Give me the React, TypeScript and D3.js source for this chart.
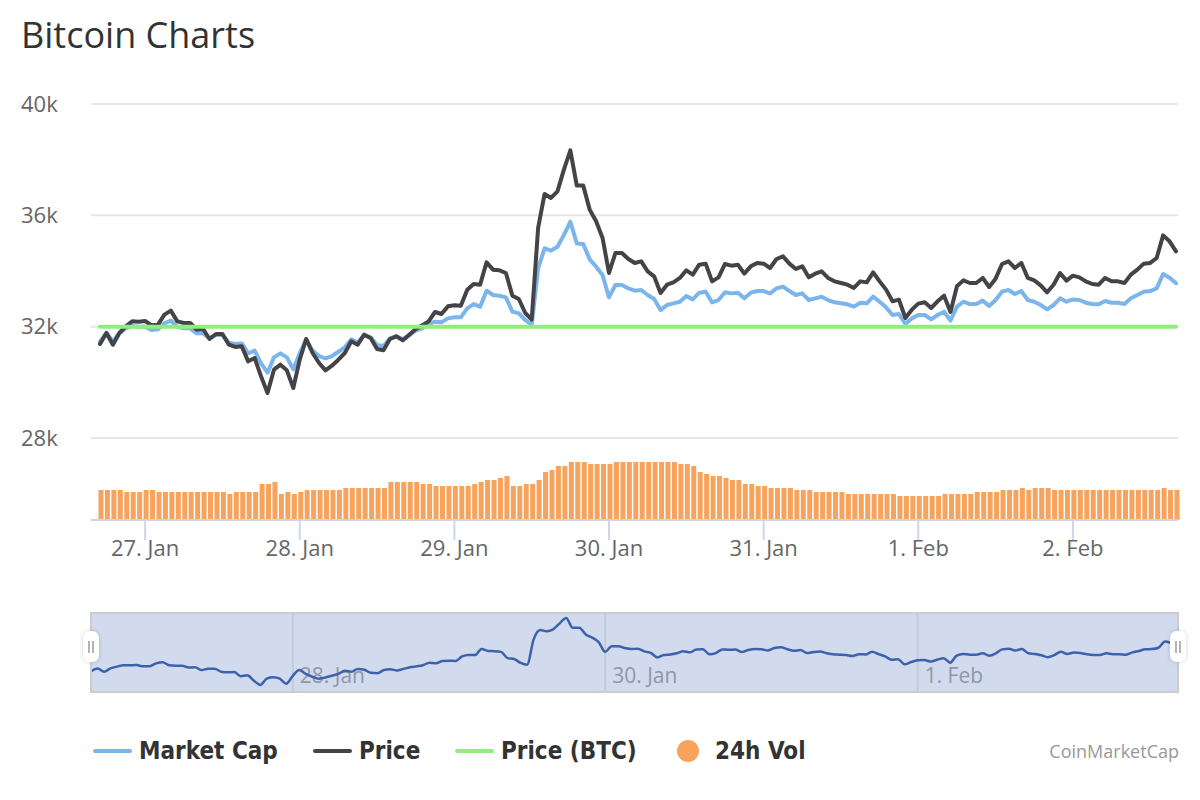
import React from 'react';
import * as d3 from 'd3';

// hourly points starting 26 Jan 2021 17:00 UTC
const START = Date.UTC(2021, 0, 26, 17);
const HOUR = 3600 * 1000;

const price: number[] = [
  31377, 31773, 31353, 31773, 32011, 32191, 32180, 32204, 32048, 32072,
  32431, 32575, 32191, 32132, 32132, 31892, 31916, 31557, 31736, 31736,
  31353, 31270, 31293, 30754, 30874, 30215, 29617, 30455, 30634, 30431,
  29796, 30814, 31557, 31054, 30694, 30431, 30598, 30814, 31054, 31473,
  31353, 31712, 31593, 31198, 31150, 31557, 31653, 31509, 31712, 31916,
  32048, 32191, 32527, 32456, 32730, 32766, 32754, 33330, 33533,
  33509, 34312, 34049, 34025, 33929, 33114, 32994, 32491, 32252, 35546,
  36769, 36625, 36863, 37643, 38337, 37068, 37068, 36205, 35785, 35187,
  33929, 34649, 34649, 34432, 34289, 34347, 33988, 33808, 33211, 33509,
  33592, 33750, 34025, 33869, 34228, 34264, 33628, 33772, 34252, 34192,
  34228, 33905, 34168, 34289, 34264, 34108, 34432, 34527, 34264, 34073,
  34168, 33772, 33905, 33988, 33750, 33628, 33569, 33509, 33390, 33628,
  33592, 33952,
  33628, 33330, 32910, 32970, 32311, 32611, 32827, 32875, 32671, 32910,
  33114, 32527, 33449, 33664, 33569, 33569, 33750, 33425, 33725, 34252,
  34347, 34108, 34289, 33750, 33664, 33485, 33234, 33509, 33929, 33653,
  33833, 33772, 33628, 33533, 33509, 33750, 33628, 33628, 33569, 33869,
  34049, 34264, 34289, 34468, 35281, 35066, 34706,
];

// market cap, billions USD
const marketCap: number[] = [
  579.6, 589.6, 579.6, 588.9, 594.5, 597.1, 596.3, 596.3, 592.6, 593.4,
  600.1, 603.0, 596.3, 594.5, 594.5, 588.9, 588.9, 583.3, 587.0, 587.0,
  578.5, 577.0, 577.7, 566.6, 569.6, 555.4, 545.0, 562.1, 566.6, 562.1,
  548.7, 566.6, 582.2, 569.6, 563.6, 561.0, 563.6, 568.4, 573.3, 582.2,
  578.5, 587.0, 584.4, 575.9, 574.8, 583.3, 585.9, 582.2, 587.0, 591.9,
  594.5, 599.3, 601.9, 601.2, 605.6, 606.8, 606.8, 616.8, 621.6,
  618.7, 636.5, 631.7, 630.9, 629.1, 613.1, 611.2, 603.8, 598.2, 661.4,
  683.8, 681.2, 685.6, 698.6, 713.5, 689.3, 688.6, 671.5, 663.3, 654.0,
  629.1, 642.8, 642.8, 639.1, 636.5, 637.3, 631.7, 627.2, 614.9, 620.5,
  622.4, 624.2, 630.6, 626.8, 634.3, 635.4, 623.5, 626.1, 634.7, 633.5,
  634.3, 628.0, 634.3, 636.1, 636.1, 633.5, 639.1, 641.0, 636.1, 631.7,
  633.5, 626.1, 628.0, 629.8, 626.1, 623.5, 622.4, 621.3, 618.7, 623.1,
  622.4, 629.8,
  624.2, 617.9, 609.4, 610.5, 599.3, 605.6, 609.4, 609.4, 604.5, 609.4,
  613.1, 603.0, 618.7, 624.2, 621.6, 621.6, 625.4, 619.4, 626.1, 635.4,
  637.3, 632.8, 636.1, 626.1, 624.2, 620.5, 615.7, 620.5, 628.0, 624.2,
  626.8, 626.1, 623.1, 621.6, 621.3, 625.0, 623.1, 623.1, 621.6, 628.0,
  631.7, 635.4, 636.1, 639.1, 655.1, 651.0, 644.7,
];

// 24h volume, billions USD
const volume: number[] = [
  60, 60, 60, 60, 56, 56, 56, 60, 60, 56,
  56, 56, 56, 56, 56, 56, 56, 56, 56, 56,
  52, 56, 56, 56, 56, 72, 72, 76, 52, 56,
  52, 56, 60, 60, 60, 60, 60, 60, 64, 64,
  64, 64, 64, 64, 64, 76, 76, 76, 76, 76,
  72, 72, 68, 68, 68, 68, 68, 68, 72,
  76, 80, 80, 84, 88, 68, 68, 72, 72, 80,
  96, 100, 108, 108, 116, 116, 116, 112, 112, 112,
  112, 116, 116, 116, 116, 116, 116, 116, 116, 116,
  116, 112, 112, 108, 96, 92, 88, 88, 84, 80,
  80, 72, 72, 68, 68, 64, 64, 64, 64, 60,
  60, 60, 56, 56, 56, 56, 56, 52, 52, 52,
  52, 52,
  52, 52, 52, 48, 48, 48, 48, 48, 48, 48,
  52, 52, 52, 52, 52, 56, 56, 56, 56, 60,
  60, 60, 64, 60, 64, 64, 64, 60, 60, 60,
  60, 60, 60, 60, 60, 60, 60, 60, 60, 60,
  60, 60, 60, 60, 64, 60, 60,
];

// Price in BTC (always 1)
const priceBtc: number[] = new Array(price.length).fill(1);

const yTicks = [28000, 32000, 36000, 40000];
const yTickLabels = ['28k', '32k', '36k', '40k'];
const xTickDays = ['2021-01-27', '2021-01-28', '2021-01-29', '2021-01-30', '2021-01-31', '2021-02-01', '2021-02-02'];
const navTickDays = ['2021-01-28', '2021-01-30', '2021-02-01'];

const legendItems = [
  { name: 'Market Cap', color: '#7cb5ec', kind: 'line' },
  { name: 'Price', color: '#434348', kind: 'line' },
  { name: 'Price (BTC)', color: '#90ed7d', kind: 'line' },
  { name: '24h Vol', color: '#f7a35c', kind: 'dot' },
];

const FONT = "'Open Sans', 'DejaVu Sans', sans-serif";

export default function App() {
  const times = price.map((_, i) => new Date(START + i * HOUR));
  const t0 = times[0];
  const t1 = times[times.length - 1];

  const x = d3.scaleUtc().domain([t0, t1]).range([100, 1176]);
  const yPrice = d3.scaleLinear().domain([28000, 40000]).range([438, 104]);
  const yCap = d3.scaleLinear().domain([500, 700]).range([413, 233.8]);
  const yBtc = d3.scaleLinear().domain([0.8, 1.2]).range([438, 215.4]);
  const yVol = d3.scaleLinear().domain([0, 200]).range([520, 420]);

  const xNav = d3.scaleUtc().domain([t0, t1]).range([91, 1178]);
  const yNav = d3.scaleLinear().domain([d3.min(price)!, d3.max(price)!]).range([685, 618]);

  const capLine = d3.line<number>().x((_, i) => x(times[i])).y((d) => yCap(d));
  const priceLine = d3.line<number>().x((_, i) => x(times[i])).y((d) => yPrice(d));
  const btcLine = d3.line<number>().x((_, i) => x(times[i])).y((d) => yBtc(d));
  const navLine = d3.line<number>().x((_, i) => xNav(times[i])).y((d) => yNav(d)).curve(d3.curveMonotoneX);

  const fmt = d3.utcFormat('%-d. %b');
  const parse = (s: string) => new Date(s + 'T00:00:00Z');

  const legendX = [95, 315, 457, 677];

  const handle = (cx: number) => (
    <g key={cx} filter="url(#hshadow)">
      <rect x={cx - 8} y={631} width={16} height={31} rx={7} fill="#ffffff" />
      <line x1={cx - 2} x2={cx - 2} y1={641} y2={653} stroke="#9a9a9a" strokeWidth={1.5} />
      <line x1={cx + 2} x2={cx + 2} y1={641} y2={653} stroke="#9a9a9a" strokeWidth={1.5} />
    </g>
  );

  return (
    <svg width={1200} height={800} style={{ position: 'absolute', left: 0, top: 0, background: '#fff' }} fontFamily={FONT}>
      <defs>
        <filter id="hshadow" x="-50%" y="-50%" width="200%" height="200%">
          <feDropShadow dx="0" dy="0" stdDeviation="2" floodColor="#000" floodOpacity="0.18" />
        </filter>
      </defs>
      <rect x={0} y={0} width={1200} height={800} fill="#ffffff" />
      <text x={21} y={48} fontSize={36} fill="#333333">Bitcoin Charts</text>

      {/* grid */}
      {yTicks.map((v, i) => (
        <g key={v}>
          <line x1={91} x2={1178} y1={yPrice(v)} y2={yPrice(v)} stroke="#e6e6e6" strokeWidth={2} />
          <text x={21} y={yPrice(v) + 7.5} fontSize={22} fill="#666666">{yTickLabels[i]}</text>
        </g>
      ))}

      {/* volume */}
      {volume.map((v, i) => (
        <rect key={i} x={x(times[i]) + 1 - 2.5} y={yVol(v)} width={5} height={520 - yVol(v)} fill="#f7a35c" />
      ))}

      {/* x axis */}
      <line x1={91} x2={1178} y1={520} y2={520} stroke="#ccd6eb" strokeWidth={2} />
      {xTickDays.map((d) => {
        const xx = x(parse(d));
        return (
          <g key={d}>
            <line x1={xx} x2={xx} y1={520} y2={540} stroke="#ccd6eb" strokeWidth={2} />
            <text x={xx} y={556} fontSize={22} fill="#666666" textAnchor="middle">{fmt(parse(d))}</text>
          </g>
        );
      })}

      {/* series */}
      <path d={capLine(marketCap)!} fill="none" stroke="#7cb5ec" strokeWidth={4} strokeLinejoin="round" strokeLinecap="round" />
      <path d={priceLine(price)!} fill="none" stroke="#434348" strokeWidth={4} strokeLinejoin="round" strokeLinecap="round" />
      <path d={btcLine(priceBtc)!} fill="none" stroke="#90ed7d" strokeWidth={4} strokeLinejoin="round" strokeLinecap="round" />

      {/* navigator */}
      <rect x={91} y={613} width={1087} height={79} fill="rgb(209,219,237)" />
      {navTickDays.map((d) => {
        const xx = xNav(parse(d));
        return (
          <g key={d}>
            <line x1={xx} x2={xx} y1={613} y2={692} stroke="#c3cad9" strokeWidth={2} />
            <text x={xx + 7} y={683} fontSize={21} fill="#8f97a8">{fmt(parse(d))}</text>
          </g>
        );
      })}
      <path d={navLine(price)!} fill="none" stroke="#3d62ad" strokeWidth={2.5} />
      <rect x={91} y={613} width={1087} height={79} fill="none" stroke="#cccccc" strokeWidth={2} />
      {handle(91)}
      {handle(1178)}

      {/* legend */}
      {legendItems.map((it, i) => {
        const lx = legendX[i];
        return (
          <g key={it.name}>
            {it.kind === 'line' ? (
              <line x1={lx} x2={lx + 35} y1={751} y2={751} stroke={it.color} strokeWidth={4} strokeLinecap="round" />
            ) : (
              <circle cx={lx + 11} cy={751} r={11} fill={it.color} />
            )}
            <text x={it.kind === 'line' ? lx + 44 : lx + 38} y={759} fontSize={24} fontWeight="bold" fill="#333333"
              fontFamily="'DejaVu Sans Condensed', 'DejaVu Sans', sans-serif" style={{ fontStretch: 'condensed' }}>{it.name}</text>
          </g>
        );
      })}
      <text x={1179} y={758} fontSize={18} fill="#999999" textAnchor="end">CoinMarketCap</text>
    </svg>
  );
}
